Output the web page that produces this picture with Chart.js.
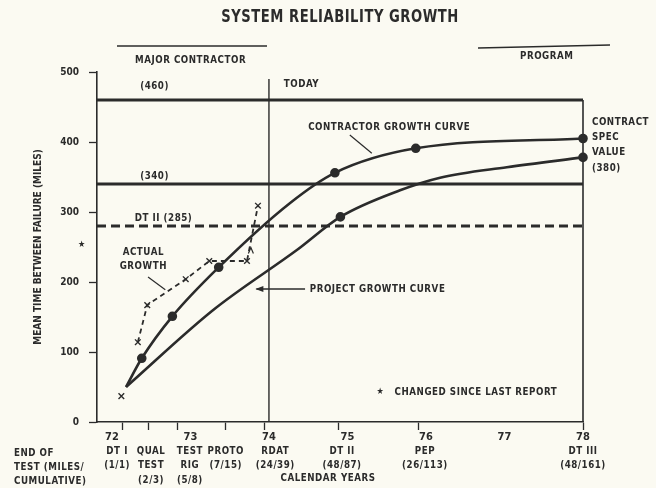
<!DOCTYPE html>
<html>
<head>
<meta charset="utf-8">
<script src="https://cdn.jsdelivr.net/npm/chart.js@4.4.0/dist/chart.umd.min.js"></script>
<style>
	html, body { margin: 0; padding: 0; background: #fbfaf2; }
	canvas { display: block; }
</style>
</head>
<body>
<canvas id="growth-chart" width="656" height="488"></canvas>
<script>
// calendar years and end-of-test milestones (miles / cumulative)
const years = [72, 73, 74, 75, 76, 77, 78];
const testEnds = [72.13, 72.46, 72.84, 73.45, 73.94, 74.88, 75.91, 78];
const testNames = [
	['DT I', '(1/1)'],
	['QUAL', 'TEST', '(2/3)'],
	['TEST', 'RIG', '(5/8)'],
	['PROTO', '(7/15)'],
	['RDAT', '(24/39)'],
	['DT II', '(48/87)'],
	['PEP', '(26/113)'],
	['DT III', '(48/161)'],
];

// mean time between failure, miles
const contractorYears = [72.18, 72.38, 72.77, 73.36, 74.27, 74.84, 75.87, 78];
const contractorMtbf = [50, 91, 151, 221, 313, 356, 391, 405];
const contractorDots = [72.38, 72.77, 73.36, 74.84, 75.87, 78];

const projectYears = [72.18, 73.29, 74.36, 74.91, 75.67, 76.18, 77.03, 78];
const projectMtbf = [50, 160, 246, 293, 331, 349, 364, 378];
const projectDots = [74.91, 78];

const actualYears = [72.12, 72.33, 72.45, 72.94, 73.24, 73.72, 73.86];
const actualMtbf = [37, 114, 167, 204, 230, 230, 309];

const requirement = 460;
const contractSpec = 340;
const dtIIValue = 280;
const todayYear = 74;
const firstYear = 71.81;
const lastYear = 78;

const ink = '#2b2b2b';
const FONT = "'Liberation Sans Narrow', 'DejaVu Sans Condensed', 'Arial Narrow', sans-serif";

Chart.defaults.font.family = FONT;
Chart.defaults.font.weight = 'bold';
Chart.defaults.color = ink;

function points(xs, ys) {
	return xs.map((x, i) => ({ x: x, y: ys[i] }));
}

// condensed text: the scan uses a narrow bold face
function say(ctx, text, px, py, size, align, squeeze) {
	ctx.save();
	ctx.translate(px, py);
	ctx.scale(squeeze || 0.88, 1);
	ctx.font = 'bold ' + size + 'px ' + FONT;
	ctx.textAlign = align || 'left';
	ctx.textBaseline = 'middle';
	ctx.fillText(text, 0, 0);
	ctx.restore();
}

function rule(ctx, x0, y0, x1, y1, width) {
	ctx.lineWidth = width;
	ctx.beginPath();
	ctx.moveTo(x0, y0);
	ctx.lineTo(x1, y1);
	ctx.stroke();
}

// test labels sit a little off their tick marks in the original
const label_nudge = [-5, 3, 12, 0, 11, 4, 6, 0];

const annotations = {
	id: 'annotations',
	afterDraw(chart) {
		const ctx = chart.ctx;
		const area = chart.chartArea;
		const x = chart.scales.x;
		const y = chart.scales.y;
		ctx.save();
		ctx.fillStyle = ink;
		ctx.strokeStyle = ink;
		ctx.letterSpacing = '0.6px';

		// headings
		say(ctx, 'SYSTEM RELIABILITY GROWTH', (area.left + area.right) / 2, 18, 17, 'center', 0.86);
		rule(ctx, 117, 46, 267, 46, 1.5);
		say(ctx, 'MAJOR CONTRACTOR', 135, 60, 11);
		rule(ctx, 478, 48, 610, 45, 1.5);
		say(ctx, 'PROGRAM', 520, 56, 11);

		// level labels
		say(ctx, '(460)', x.getPixelForValue(72.36), y.getPixelForValue(480), 11);
		say(ctx, 'TODAY', x.getPixelForValue(74.19), y.getPixelForValue(483), 11);
		say(ctx, '(340)', x.getPixelForValue(72.36), y.getPixelForValue(351), 11);
		say(ctx, 'DT II (285)', x.getPixelForValue(72.29), y.getPixelForValue(291), 11);

		// curve labels
		say(ctx, 'CONTRACTOR GROWTH CURVE', x.getPixelForValue(74.5), y.getPixelForValue(421), 11);
		rule(ctx, x.getPixelForValue(75.03), y.getPixelForValue(410),
			x.getPixelForValue(75.31), y.getPixelForValue(384), 1.2);

		say(ctx, 'ACTUAL', x.getPixelForValue(72.4), y.getPixelForValue(243), 11, 'center');
		say(ctx, 'GROWTH', x.getPixelForValue(72.4), y.getPixelForValue(223), 11, 'center');
		rule(ctx, x.getPixelForValue(72.46), y.getPixelForValue(207),
			x.getPixelForValue(72.68), y.getPixelForValue(189), 1.2);

		say(ctx, 'PROJECT GROWTH CURVE', x.getPixelForValue(74.52), y.getPixelForValue(190), 11);
		const ax = x.getPixelForValue(73.84);
		const ay = y.getPixelForValue(190);
		rule(ctx, x.getPixelForValue(74.46), ay, ax, ay, 1.3);
		ctx.beginPath();
		ctx.moveTo(ax - 1, ay);
		ctx.lineTo(ax + 7, ay - 3);
		ctx.lineTo(ax + 7, ay + 3);
		ctx.closePath();
		ctx.fill();

		// little arrow on the last step of actual growth
		const cx = x.getPixelForValue(73.77);
		const cy = y.getPixelForValue(245);
		ctx.beginPath();
		ctx.moveTo(cx - 2.5, cy + 3);
		ctx.lineTo(cx, cy - 3);
		ctx.lineTo(cx + 2.5, cy + 3);
		ctx.lineWidth = 1.2;
		ctx.stroke();

		const sx = area.right + 9;
		say(ctx, 'CONTRACT', sx, y.getPixelForValue(429), 11);
		say(ctx, 'SPEC', sx, y.getPixelForValue(407), 11);
		say(ctx, 'VALUE', sx, y.getPixelForValue(386), 11);
		say(ctx, '(380)', sx, y.getPixelForValue(363), 11);

		// changed-since-last-report note
		say(ctx, '\u2605', x.getPixelForValue(75.42), y.getPixelForValue(43), 9, 'center', 1);
		say(ctx, 'CHANGED SINCE LAST REPORT', x.getPixelForValue(75.6), y.getPixelForValue(43), 11);
		say(ctx, '\u2605', area.left - 15, y.getPixelForValue(253), 9, 'center', 1);

		// end-of-test labels under their tick marks
		testEnds.forEach((t, i) => {
			const tx = x.getPixelForValue(t) + label_nudge[i];
			testNames[i].forEach((line, j) => {
				say(ctx, line, tx, area.bottom + 29 + j * 14.5, 11, 'center');
			});
		});

		// bottom captions
		say(ctx, 'END OF', 14, area.bottom + 31, 11);
		say(ctx, 'TEST (MILES/', 14, area.bottom + 45, 11);
		say(ctx, 'CUMULATIVE)', 14, area.bottom + 59, 11);
		say(ctx, 'CALENDAR YEARS', 328, area.bottom + 56, 11, 'center');
		ctx.restore();
	},
};

const tickValues = [...new Set(years.concat(testEnds))].sort((a, b) => a - b);

const level_line = {
	borderColor: ink,
	borderWidth: 3,
	pointRadius: 0,
	clip: false,
};

var growth_chart = new Chart(document.getElementById('growth-chart'), {
	type: 'line',
	data: {
		datasets: [
			{
				data: points(actualYears, actualMtbf),
				borderColor: ink,
				borderWidth: 1.8,
				borderDash: [5, 4],
				segment: {
					borderColor: (ctx) => ctx.p0DataIndex === 0 ? 'rgba(0,0,0,0)' : ink,
				},
				pointStyle: 'crossRot',
				pointRadius: 4,
				pointBorderWidth: 1.4,
				pointBorderColor: ink,
			},
			{
				data: points(contractorYears, contractorMtbf),
				borderColor: ink,
				borderWidth: 2.6,
				cubicInterpolationMode: 'monotone',
				pointRadius: (ctx) => contractorDots.includes(contractorYears[ctx.dataIndex]) ? 3.5 : 0,
				pointBackgroundColor: ink,
				pointBorderColor: ink,
				clip: false,
			},
			{
				data: points(projectYears, projectMtbf),
				borderColor: ink,
				borderWidth: 2.6,
				cubicInterpolationMode: 'monotone',
				pointRadius: (ctx) => projectDots.includes(projectYears[ctx.dataIndex]) ? 3.5 : 0,
				pointBackgroundColor: ink,
				pointBorderColor: ink,
				clip: false,
			},
			Object.assign({ data: [{ x: firstYear, y: requirement }, { x: lastYear, y: requirement }] }, level_line),
			Object.assign({ data: [{ x: firstYear, y: contractSpec }, { x: lastYear, y: contractSpec }] }, level_line),
			Object.assign({ data: [{ x: firstYear, y: dtIIValue }, { x: lastYear, y: dtIIValue }], borderDash: [9, 5] }, level_line),
			Object.assign({}, level_line, { data: [{ x: todayYear, y: 0 }, { x: todayYear, y: 490 }], borderWidth: 1.4 }),
			Object.assign({}, level_line, { data: [{ x: lastYear, y: 0 }, { x: lastYear, y: requirement }], borderWidth: 1.6 }),
		],
	},
	options: {
		responsive: false,
		animation: false,
		layout: {
			padding: { top: 72, right: 73, left: 0, bottom: 0 },
		},
		plugins: {
			legend: { display: false },
			tooltip: { enabled: false },
		},
		scales: {
			x: {
				type: 'linear',
				min: firstYear,
				max: lastYear,
				afterBuildTicks: (scale) => {
					scale.ticks = tickValues.map((v) => ({ value: v }));
				},
				afterFit: (scale) => {
					scale.height = 66;
				},
				border: { color: ink, width: 1.6 },
				grid: {
					drawOnChartArea: false,
					tickLength: 8,
					tickWidth: 1.3,
					tickColor: (ctx) => ctx.tick && testEnds.includes(ctx.tick.value) ? ink : 'rgba(0,0,0,0)',
				},
				ticks: {
					autoSkip: false,
					maxRotation: 0,
					minRotation: 0,
					padding: 0,
					font: { size: 11, lineHeight: 1.3 },
					callback: (value) => years.includes(value) ? String(value) : '',
				},
			},
			y: {
				min: 0,
				max: 500,
				afterFit: (scale) => {
					scale.width = 97;
				},
				border: { color: ink, width: 1.6 },
				grid: {
					drawOnChartArea: false,
					tickLength: 8,
					tickWidth: 1.3,
					tickColor: ink,
				},
				ticks: {
					stepSize: 100,
					padding: 10,
					font: { size: 10 },
				},
				title: {
					display: true,
					text: 'MEAN TIME BETWEEN FAILURE (MILES)',
					font: { size: 10 },
					padding: 32,
				},
			},
		},
	},
	plugins: [annotations],
});
</script>
</body>
</html>
